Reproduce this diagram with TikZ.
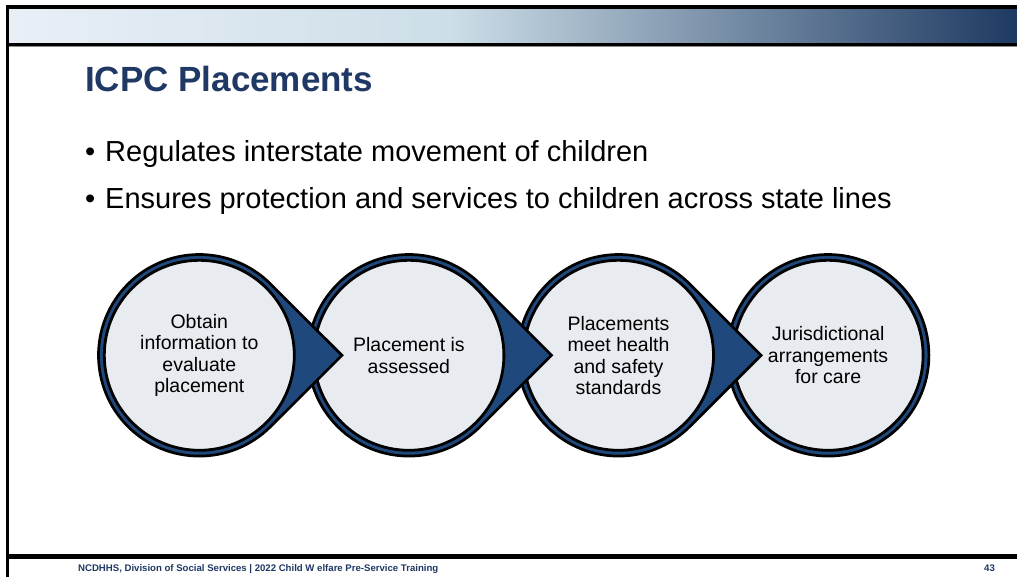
\documentclass[tikz,border=0pt]{standalone}
\usepackage{fontspec}
\setmainfont{Liberation Sans}
\usetikzlibrary{calc}
\definecolor{navy}{RGB}{31,56,100}
\definecolor{arrowblue}{RGB}{31,73,125}
\definecolor{discfill}{RGB}{232,235,240}
\definecolor{barlight}{RGB}{233,239,246}
\definecolor{barmid}{RGB}{205,222,232}
\definecolor{bardark}{RGB}{30,58,98}
\begin{document}
\begin{tikzpicture}[x=1pt,y=-1pt,
  disc/.style={circle, draw=black, line width=2.8pt, fill=discfill, minimum size=190pt, inner sep=0pt, align=center, font=\fontsize{19.5}{21.5}\selectfont, text=black},
  tail/.style={draw=black, line width=2.7pt, fill=arrowblue, line join=miter},
  bullettext/.style={anchor=base west, font=\fontsize{29}{33}\selectfont, text=black, inner sep=0pt},
  footer/.style={anchor=base west, font=\bfseries\fontsize{9.6}{11}\selectfont, text=navy, inner sep=0pt}
]
\useasboundingbox (0,0) rectangle (1017,577);
\fill[white] (0,0) rectangle (1017,577);
% header bar
\shade[left color=barlight, right color=barmid] (9,9) rectangle (450,43);
\shade[left color=barmid, right color=bardark] (449.5,9) rectangle (1017,43);
\fill[black] (6,5) rectangle (1017,9);
\fill[black] (6,5) rectangle (9,577);
\fill[black] (9,43) rectangle (1017,46);
\fill[black!45] (9,46) rectangle (1017,47.5);
\fill[black] (9,554) rectangle (1017,559);
% title and bullets
\node[anchor=base west, inner sep=0pt, font=\bfseries\fontsize{35}{40}\selectfont, text=navy] (title) at (85,92) {ICPC Placements};
\node[bullettext] (b1) at (85,162) {•};
\node[bullettext] (t1) at (105,162) {Regulates interstate movement of children};
\node[bullettext] (b2) at (85,209) {•};
\node[bullettext] (t2) at (105,209) {Ensures protection and services to children across state lines};
% process circles (drawn right to left so each tail lies over the next disc)
\draw[tail] (828.1,355.3) circle[radius=100.8];
\node[disc] (c4) at (828.1,355.3) {Jurisdictional\\arrangements\\for care};
\coordinate (tip3) at ($(c4.center)+(-67,0)$);
\coordinate (o3) at (618.5,355.3);
\path[tail] ($(o3)+(45.2:100.8)$) -- (tip3) -- ($(o3)+(-45.2:100.8)$) arc[start angle=-45.2, end angle=-314.8, radius=100.8] -- cycle;
\node[disc] (c3) at (o3) {Placements\\meet health\\and safety\\standards};
\coordinate (tip2) at ($(c3.center)+(-67,0)$);
\coordinate (o2) at (408.9,355.3);
\path[tail] ($(o2)+(45.2:100.8)$) -- (tip2) -- ($(o2)+(-45.2:100.8)$) arc[start angle=-45.2, end angle=-314.8, radius=100.8] -- cycle;
\node[disc] (c2) at (o2) {Placement is\\assessed};
\coordinate (tip1) at ($(c2.center)+(-67,0)$);
\coordinate (o1) at (199.3,355.3);
\path[tail] ($(o1)+(45.2:100.8)$) -- (tip1) -- ($(o1)+(-45.2:100.8)$) arc[start angle=-45.2, end angle=-314.8, radius=100.8] -- cycle;
\node[disc] (c1) at (o1) {Obtain\\information to\\evaluate\\placement};
% footer
\node[footer] (foot) at (78,571) {NCDHHS, Division of Social Services | 2022 Child W elfare Pre-Service Training};
\node[footer] (page) at (984,571) {43};
\end{tikzpicture}
\end{document}
